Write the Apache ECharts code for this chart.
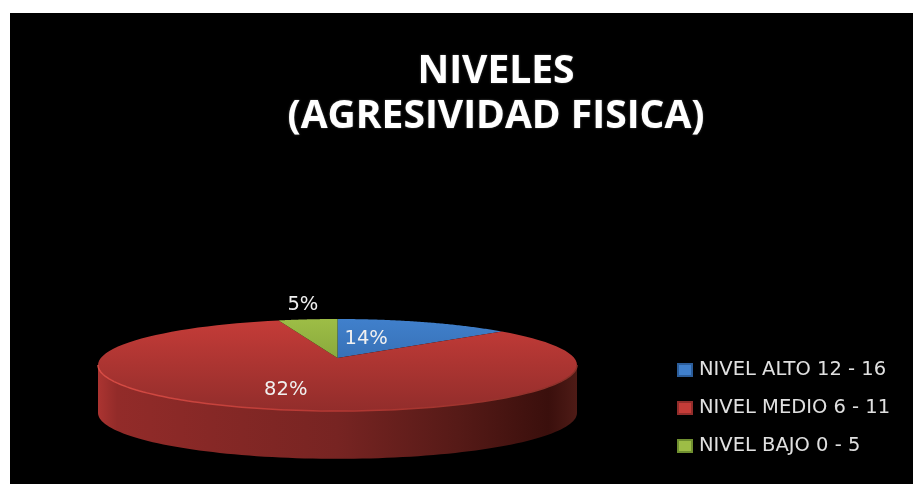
<!DOCTYPE html>
<html>
<head>
<meta charset="utf-8">
<title>Niveles</title>
<style>
html,body{margin:0;padding:0;background:#fff}
#main{width:913px;height:484px}
</style>
<script src="https://cdn.jsdelivr.net/npm/echarts@6/dist/echarts.min.js"></script>
</head>
<body>
<div id="main"></div>
<script>
// datos
var levelNames=['NIVEL ALTO 12 - 16','NIVEL MEDIO 6 - 11','NIVEL BAJO 0 - 5'];
var levelValues=[13.8,81.6,4.6];

// colores de cada rebanada (arriba, abajo)
var topColors=['#4080cc','#c53c38','#9dbd46'];
var bottomColors=['#2c5d9a','#922d2b','#6f8f30'];
// etiquetas: radio relativo y ajuste vertical en px
var labelRadius=[0.3,0.69,1.2];
var labelNudge=[-7,-1,-8];

var tilt=0.152;            // perspectiva del disco
var depth=1.04;            // alto de la pared, en unidades del eje y
var frontStart=Math.acos(-tilt);
var frontEnd=2*Math.PI-frontStart;

// disco unidad -> plano proyectado
function project(theta,r){
	var u=r*Math.sin(theta),v=r*Math.cos(theta);
	var w=1+tilt*v;
	return [Math.sqrt(1-tilt*tilt)*u/w,tilt+(1-tilt*tilt)*v/w];
}

function arc(a0,a1,shift,api){
	var pts=[],n=96;
	for(var i=0;i<=n;i++){
		var p=project(a0+(a1-a0)*i/n,1);
		pts.push(api.coord([p[0],p[1]-shift]));
	}
	return pts;
}

function renderSlice(params,api){
	var idx=params.seriesIndex;
	var a0=api.value(0),a1=api.value(1),value=api.value(2);
	var children=[];
	var yTop=api.coord([0,1])[1],yBottom=api.coord([0,-1])[1];
	var xLeft=api.coord([-1,0])[0],xRight=api.coord([1,0])[0];

	// pared frontal
	var s=Math.max(a0,frontStart),e=Math.min(a1,frontEnd);
	if(e>s){
		var upper=arc(s,e,0,api);
		var lower=arc(s,e,depth,api).reverse();
		children.push({
			type:'polygon',
			shape:{points:upper.concat(lower)},
			style:{fill:new echarts.graphic.LinearGradient(xLeft,0,xRight,0,[
				{offset:0,color:'#ab3431'},
				{offset:0.04,color:'#922b29'},
				{offset:0.5,color:'#772422'},
				{offset:0.75,color:'#561a17'},
				{offset:0.94,color:'#3a0f0c'},
				{offset:1,color:'#4e1b16'}
			],true)}
		});
	}

	// cara superior
	var c=project(0,0);
	var top=[api.coord(c)].concat(arc(a0,a1,0,api));
	children.push({
		type:'polygon',
		shape:{points:top},
		style:{fill:new echarts.graphic.LinearGradient(0,yTop,0,yBottom,[
			{offset:0,color:topColors[idx]},
			{offset:1,color:bottomColors[idx]}
		],true)}
	});

	// borde claro
	if(e>s){
		children.push({
			type:'polyline',
			shape:{points:arc(s,e,0,api)},
			style:{fill:null,lineWidth:1.5,stroke:new echarts.graphic.LinearGradient(xLeft,0,xRight,0,[
				{offset:0,color:'#d84c45'},
				{offset:0.5,color:'#b53833'},
				{offset:1,color:'#8a3029'}
			],true)}
		});
	}

	// etiqueta
	var mid=(a0+a1)/2;
	if(mid>Math.PI*1.5) mid-=2*Math.PI;
	var lp=api.coord(project(mid,labelRadius[idx]));
	children.push({
		type:'text',
		z2:10,
		style:{
			text:Math.round(value)+'%',
			x:lp[0],
			y:lp[1]+labelNudge[idx],
			fill:'#f0f0f0',
			font:'19.5px "DejaVu Sans"',
			align:'center',
			verticalAlign:'middle'
		}
	});
	return {type:'group',children:children};
}

// angulos acumulados: alto empieza en las 12, bajo termina en las 12
var total=levelValues.reduce(function(a,b){return a+b},0);
var acc=0;
var series=levelNames.map(function(name,i){
	var a0=acc/total*2*Math.PI;
	acc+=levelValues[i];
	var a1=acc/total*2*Math.PI;
	return {
		name:name,
		type:'custom',
		renderItem:renderSlice,
		clip:false,
		silent:true,
		animation:false,
		itemStyle:{
			color:topColors[i],
			borderColor:bottomColors[i],
			borderWidth:1
		},
		encode:{x:0,y:1},
		data:[[a0,a1,levelValues[i]]]
	};
});

var chart=echarts.init(document.getElementById('main'));
chart.setOption({
	animation:false,
	backgroundColor:'#fff',
	graphic:[{
		type:'rect',
		z:-10,
		silent:true,
		shape:{x:10,y:13,width:903,height:471},
		style:{fill:'#000'}
	}],
	title:{
		text:'NIVELES\n(AGRESIVIDAD FISICA)',
		left:491,
		top:44,
		textAlign:'center',
		textStyle:{
			color:'#fff',
			fontFamily:'Open Sans',
			fontWeight:'bold',
			fontSize:39,
			lineHeight:45,
			textShadowColor:'rgba(255,255,255,.35)',
			textShadowBlur:2
		}
	},
	legend:{
		orient:'vertical',
		left:677,
		top:359,
		padding:0,
		itemWidth:14,
		itemHeight:12,
		itemGap:16,
		selectedMode:false,
		icon:'rect',
		data:levelNames,
		textStyle:{color:'#e0e0e0',fontFamily:'DejaVu Sans',fontSize:19.5,lineHeight:22,padding:[0,0,0,2]}
	},
	grid:{left:98,top:319,width:479,height:92},
	xAxis:{type:'value',min:-1,max:1,show:false},
	yAxis:{type:'value',min:-1,max:1,show:false},
	series:series
});
</script>
</body>
</html>
